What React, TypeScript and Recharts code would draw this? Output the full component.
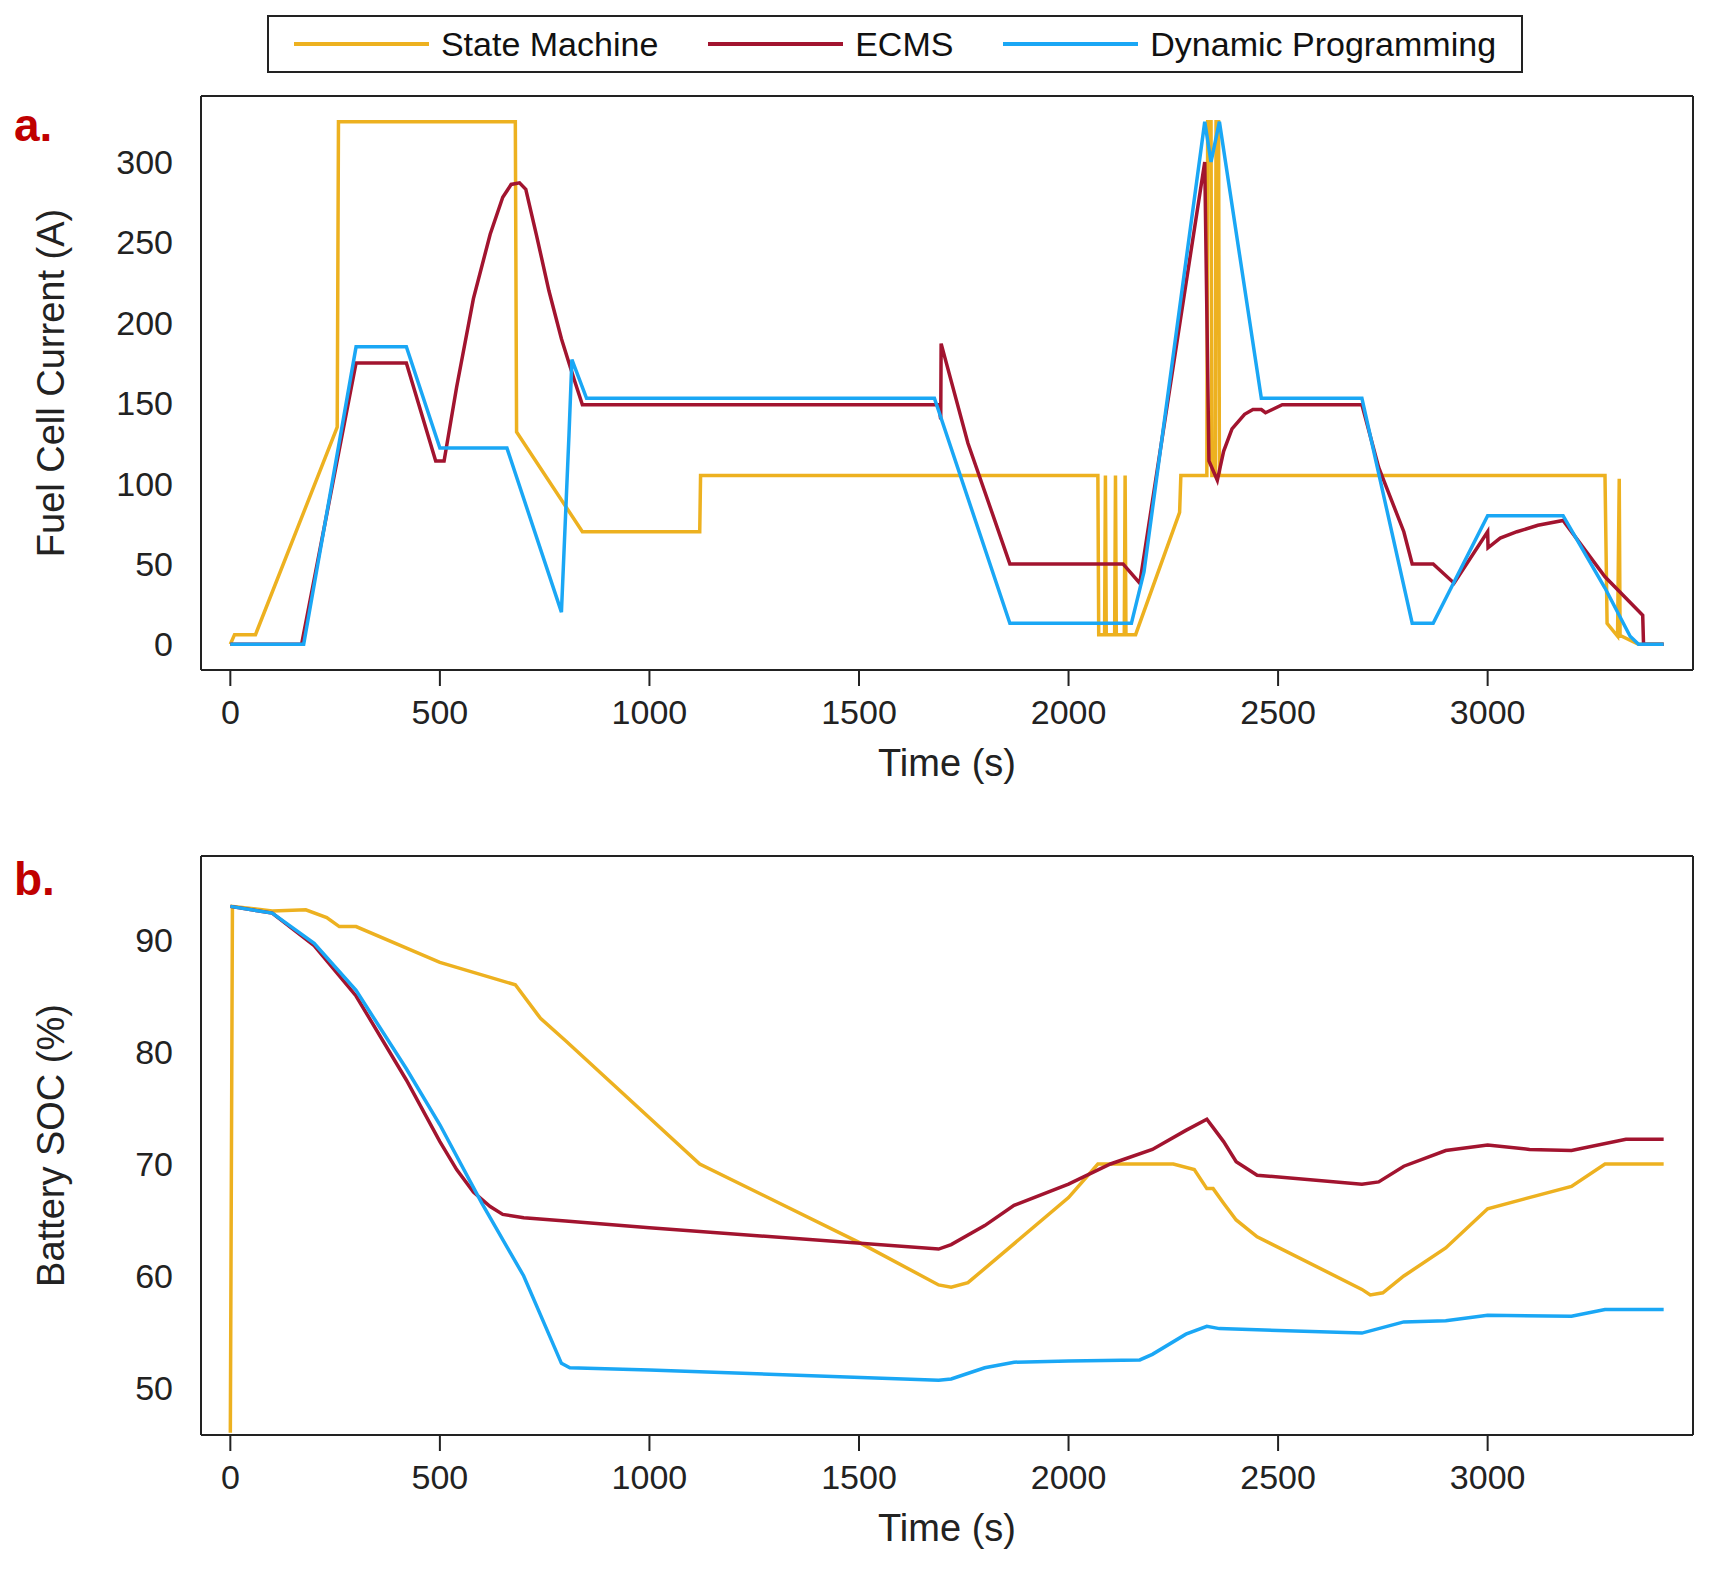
import React from 'react';
import { LineChart, Line, XAxis, YAxis, CartesianGrid } from 'recharts';

const FONT = '"Liberation Sans", Arial, sans-serif';
const YELLOW = '#EDB120';
const RED = '#A2142F';
const BLUE = '#1AA7F5';

const timeTicks = [0, 500, 1000, 1500, 2000, 2500, 3000];
const currentTicks = [0, 50, 100, 150, 200, 250, 300];
const socTicks = [50, 60, 70, 80, 90];

// panel a: fuel cell current (A)
const smCurT = [0, 10, 60, 255, 258, 680, 683, 840, 1120, 1122, 2070, 2072, 2086, 2088, 2090, 2110, 2112, 2114, 2133, 2135, 2137, 2160, 2265, 2268, 2330, 2332, 2340, 2342, 2350, 2352, 2358, 2360, 3280, 3285, 3310, 3314, 3316, 3320, 3360, 3420];
const smCurV = [0, 6, 6, 135, 325, 325, 132, 70, 70, 105, 105, 6, 6, 105, 6, 6, 105, 6, 6, 105, 6, 6, 82, 105, 105, 325, 325, 105, 105, 325, 325, 105, 105, 13, 5, 103, 5, 5, 0, 0];
const ecCurT = [0, 170, 300, 420, 490, 510, 540, 580, 620, 650, 670, 690, 705, 730, 760, 790, 820, 840, 1690, 1695, 1696, 1760, 1860, 2130, 2170, 2325, 2335, 2355, 2370, 2390, 2420, 2440, 2460, 2470, 2510, 2700, 2740, 2800, 2820, 2870, 2920, 3000, 3001, 3030, 3070, 3120, 3180, 3280, 3370, 3372, 3420];
const ecCurV = [0, 0, 175, 175, 114, 114, 160, 215, 255, 278, 286, 287, 283, 255, 220, 190, 165, 149, 149, 140, 187, 125, 50, 50, 38, 300, 114, 102, 120, 134, 143, 146, 146, 144, 149, 149, 110, 70, 50, 50, 38, 70, 60, 66, 70, 74, 77, 42, 18, 0, 0];
const dpCurT = [0, 175, 300, 420, 500, 660, 790, 808, 815, 850, 1680, 1860, 2150, 2180, 2325, 2340, 2360, 2460, 2700, 2820, 2870, 3000, 3180, 3280, 3340, 3360, 3420];
const dpCurV = [0, 0, 185, 185, 122, 122, 20, 130, 177, 153, 153, 13, 13, 45, 325, 300, 325, 153, 153, 13, 13, 80, 80, 35, 5, 0, 0];

// panel b: battery SOC (%)
const smSocT = [0, 5, 100, 180, 230, 260, 300, 500, 680, 740, 800, 1120, 1500, 1690, 1720, 1760, 2000, 2070, 2250, 2300, 2330, 2345, 2370, 2400, 2450, 2700, 2720, 2750, 2800, 2900, 3000, 3200, 3280, 3300, 3420];
const smSocV = [46, 93, 92.6, 92.7, 92, 91.2, 91.2, 88, 86, 83, 81, 70, 63, 59.2, 59, 59.4, 67, 70, 70, 69.5, 67.8, 67.8, 66.5, 65, 63.5, 58.8, 58.3, 58.5, 60, 62.5, 66, 68, 70, 70, 70];
const ecSocT = [0, 100, 200, 300, 420, 500, 540, 580, 620, 650, 700, 800, 1000, 1690, 1720, 1800, 1870, 2000, 2100, 2200, 2280, 2330, 2350, 2370, 2400, 2450, 2700, 2740, 2800, 2900, 3000, 3100, 3200, 3330, 3420];
const ecSocV = [93, 92.4, 89.5, 85, 77.5, 72, 69.5, 67.5, 66.2, 65.5, 65.2, 64.9, 64.3, 62.4, 62.8, 64.5, 66.3, 68.2, 70, 71.3, 73, 74, 73, 72, 70.2, 69, 68.2, 68.4, 69.8, 71.2, 71.7, 71.3, 71.2, 72.2, 72.2];
const dpSocT = [0, 100, 200, 300, 420, 500, 600, 700, 790, 810, 1000, 1690, 1720, 1800, 1870, 2000, 2170, 2200, 2280, 2330, 2360, 2700, 2760, 2800, 2900, 3000, 3200, 3280, 3420];
const dpSocV = [93, 92.4, 89.7, 85.5, 78.5, 73.5, 66.5, 60, 52.2, 51.8, 51.6, 50.7, 50.8, 51.8, 52.3, 52.4, 52.5, 53, 54.8, 55.5, 55.3, 54.9, 55.5, 55.9, 56, 56.5, 56.4, 57, 57];

const zip = (t: number[], v: number[]) => t.map((x, i) => ({ t: x, v: v[i] }));

const series = [
  { name: 'State Machine', color: YELLOW },
  { name: 'ECMS', color: RED },
  { name: 'Dynamic Programming', color: BLUE },
];

const tickStyle = { fontSize: 34, fill: '#222', fontFamily: FONT };
const labelStyle = { fontSize: 38, fill: '#222', fontFamily: FONT, textAnchor: 'middle' as const };

interface PanelProps {
  data: { t: number; v: number }[][];
  yDomain: [number, number];
  yTicks: number[];
  yLabel: string;
  height: number;
  margin: { top: number; right: number; bottom: number; left: number };
  topTicks?: boolean;
}

const Panel: React.FC<PanelProps> = ({ data, yDomain, yTicks, yLabel, height, margin, topTicks }) => (
  <LineChart width={1721} height={height} margin={margin}>
    <CartesianGrid stroke="#bbb" strokeDasharray="2 2" />
    <XAxis
      xAxisId="b"
      dataKey="t"
      type="number"
      domain={[-70, 3490]}
      ticks={timeTicks}
      allowDataOverflow
      tick={tickStyle}
      tickSize={16}
      tickMargin={14}
      stroke="#222"
      strokeWidth={2}
      height={110}
      label={{ value: 'Time (s)', position: 'insideBottom', offset: 4, style: labelStyle }}
    />
    <XAxis
      xAxisId="t"
      orientation="top"
      dataKey="t"
      type="number"
      domain={[-70, 3490]}
      ticks={timeTicks}
      tick={{ fontSize: 0 }}
      tickSize={topTicks ? 12 : 0}
      stroke="#222"
      strokeWidth={2}
      height={1}
    />
    <YAxis
      yAxisId="l"
      type="number"
      domain={yDomain}
      ticks={yTicks}
      allowDataOverflow
      tick={tickStyle}
      tickLine={false}
      tickMargin={22}
      stroke="#222"
      strokeWidth={2}
      width={180}
      label={{ value: yLabel, angle: -90, position: 'insideLeft', offset: 30, style: labelStyle }}
    />
    <YAxis
      yAxisId="r"
      orientation="right"
      type="number"
      domain={yDomain}
      ticks={yTicks}
      tick={{ fontSize: 0 }}
      tickSize={12}
      stroke="#222"
      strokeWidth={2}
      width={1}
    />
    {data.map((d, i) => (
      <Line
        key={series[i].name}
        xAxisId="b"
        yAxisId="l"
        data={d}
        dataKey="v"
        type="linear"
        stroke={series[i].color}
        strokeWidth={3.5}
        dot={false}
        activeDot={false}
        isAnimationActive={false}
      />
    ))}
  </LineChart>
);

const panelTag = (text: string, top: number) => (
  <div style={{ position: 'absolute', left: 14, top, fontFamily: FONT, fontWeight: 'bold', fontSize: 46, color: '#C00000' }}>{text}</div>
);

export default function App() {
  return (
    <div style={{ position: 'absolute', left: 0, top: 0, width: 1721, height: 1572, background: '#fff' }}>
      <div
        style={{
          position: 'absolute', left: 267, top: 15, width: 1256, height: 58, border: '2px solid #222',
          display: 'flex', alignItems: 'center', justifyContent: 'space-around', fontFamily: FONT, fontSize: 34, color: '#111', boxSizing: 'border-box',
        }}
      >
        {series.map((s) => (
          <span key={s.name} style={{ display: 'flex', alignItems: 'center' }}>
            <span style={{ display: 'inline-block', width: 135, height: 4, background: s.color, marginRight: 12 }} />
            {s.name}
          </span>
        ))}
      </div>
      {panelTag('a.', 98)}
      {panelTag('b.', 852)}
      <div style={{ position: 'absolute', left: 0, top: 0 }}>
        <Panel
          data={[zip(smCurT, smCurV), zip(ecCurT, ecCurV), zip(dpCurT, dpCurV)]}
          yDomain={[-16, 341]}
          yTicks={currentTicks}
          yLabel="Fuel Cell Current (A)"
          height={790}
          margin={{ top: 95, right: 27, bottom: 10, left: 21 }}
        />
      </div>
      <div style={{ position: 'absolute', left: 0, top: 782 }}>
        <Panel
          data={[zip(smSocT, smSocV), zip(ecSocT, ecSocV), zip(dpSocT, dpSocV)]}
          yDomain={[45.8, 97.5]}
          yTicks={socTicks}
          yLabel="Battery SOC (%)"
          height={790}
          margin={{ top: 73, right: 27, bottom: 27, left: 21 }}
          topTicks
        />
      </div>
    </div>
  );
}
